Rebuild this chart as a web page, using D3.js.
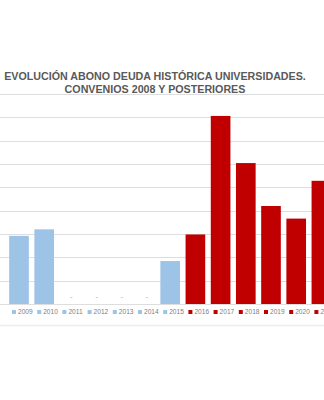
<!DOCTYPE html>
<html>
<head>
<meta charset="utf-8">
<script src="https://cdn.jsdelivr.net/npm/d3@7"></script>
<style>
  html, body { margin: 0; padding: 0; background: #fff; overflow: hidden; }
  svg { display: block; }
</style>
</head>
<body>
<div id="chart"></div>
<script>
// Annual payments of historical university debt (millions of euros)
const years = ["2009", "2010", "2011", "2012", "2013", "2014", "2015",
               "2016", "2017", "2018", "2019", "2020", "2021"];
const payments = [14.6, 16.0, 0, 0, 0, 0, 9.2, 14.9, 40.3, 30.2, 21.0, 18.3, 26.4];
// Agreements before 2016 in blue, later ones in red
const period = ["prev", "prev", "prev", "prev", "prev", "prev", "prev",
                "post", "post", "post", "post", "post", "post"];
const yTicks = [0, 5, 10, 15, 20, 25, 30, 35, 40, 45];
const titleLines = ["EVOLUCIÓN ABONO DEUDA HISTÓRICA UNIVERSIDADES.",
                    "CONVENIOS 2008 Y POSTERIORES"];

const W = 324, H = 400;
const colors = { prev: "#9DC3E6", post: "#C00000" };

const svg = d3.select("#chart").append("svg")
  .attr("width", W).attr("height", H);

const x = d3.scaleBand()
  .domain(years)
  .range([6.4, 6.4 + years.length * 25.2])
  .paddingInner(0.22)
  .paddingOuter(0.11);

const y = d3.scaleLinear()
  .domain([0, 45])
  .range([304, 94]);

// Horizontal gridlines
svg.append("g")
  .selectAll("line")
  .data(yTicks)
  .join("line")
  .attr("x1", 0).attr("x2", W)
  .attr("y1", d => Math.round(y(d)) + 0.5)
  .attr("y2", d => Math.round(y(d)) + 0.5)
  .attr("stroke", "#DEDEDE")
  .attr("stroke-width", 1);

// Bars
const data = years.map((yr, i) => ({ yr, v: payments[i], p: period[i] }));
svg.append("g")
  .selectAll("rect")
  .data(data.filter(d => d.v > 0))
  .join("rect")
  .attr("x", d => x(d.yr))
  .attr("width", x.bandwidth())
  .attr("y", d => y(d.v))
  .attr("height", d => y(0) - y(d.v))
  .attr("fill", d => colors[d.p]);

// Zero-value markers
svg.append("g")
  .selectAll("text")
  .data(data.filter(d => d.v === 0))
  .join("text")
  .attr("x", d => x(d.yr) + x.bandwidth() / 2 + 2)
  .attr("y", 299)
  .attr("text-anchor", "middle")
  .attr("font-family", "Liberation Sans, Arial, sans-serif")
  .attr("font-size", 7)
  .attr("fill", "#A6A6A6")
  .text("-");

// Title
svg.append("g")
  .selectAll("text")
  .data(titleLines)
  .join("text")
  .attr("x", 155)
  .attr("y", (d, i) => 79.5 + i * 13.5)
  .attr("text-anchor", "middle")
  .attr("font-family", "Liberation Sans, Arial, sans-serif")
  .attr("font-weight", "bold")
  .attr("font-size", 10.7)
  .attr("fill", "#595959")
  .text(d => d);

// Legend
const legend = svg.append("g")
  .selectAll("g")
  .data(data)
  .join("g")
  .attr("transform", d => `translate(${x(d.yr) + x.bandwidth() / 2 - 7}, 312)`);
legend.append("rect")
  .attr("x", 0).attr("y", -2)
  .attr("width", 4).attr("height", 4)
  .attr("fill", d => colors[d.p]);
legend.append("text")
  .attr("x", 6).attr("y", 2.4)
  .attr("font-family", "Liberation Sans, Arial, sans-serif")
  .attr("font-size", 6.6)
  .attr("fill", "#808080")
  .text(d => d.yr);

// Chart frame bottom edge
svg.append("line")
  .attr("x1", 0).attr("x2", W)
  .attr("y1", 325.5).attr("y2", 325.5)
  .attr("stroke", "#EDEDED")
  .attr("stroke-width", 1.5);
</script>
</body>
</html>
